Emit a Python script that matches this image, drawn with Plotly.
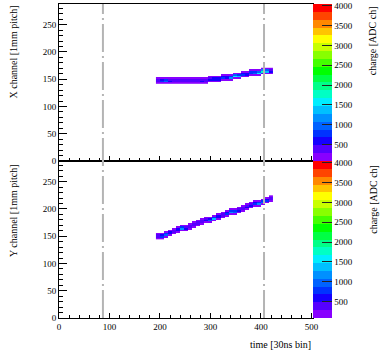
import plotly.graph_objects as go
from plotly.subplots import make_subplots

# time columns (start of each 8-sample bin, 30ns units)
time_cols = [192, 200, 208, 216, 224, 232, 240, 248, 256, 264, 272, 280, 288, 296, 304,
             312, 320, 328, 336, 344, 352, 360, 368, 376, 384, 392, 400, 408, 416]

# lowest channel of the track in each column (cells are 3 channels tall)
x_base = [141, 141, 141, 141, 141, 141, 141, 141, 141, 141, 141, 141, 141, 144, 144,
          144, 147, 147, 147, 150, 150, 153, 153, 156, 156, 156, 159, 159, 159]
y_base = [144, 144, 147, 150, 153, 156, 159, 159, 162, 165, 168, 171, 174, 174, 177,
          180, 183, 186, 189, 189, 192, 195, 198, 201, 204, 204, 207, 210, 213]

# charge of the 4 stacked cells in each column, bottom to top [ADC ch]
x_charge = [
    [120, 330, 280, 110], [200, 800, 600, 180], [230, 950, 700, 200], [200, 480, 420, 150],
    [160, 360, 330, 140], [150, 320, 300, 130], [160, 360, 320, 120], [150, 310, 330, 140],
    [150, 340, 300, 130], [160, 380, 350, 150], [170, 400, 360, 160], [180, 480, 400, 170],
    [170, 420, 380, 160], [190, 520, 450, 180], [200, 560, 480, 190], [210, 650, 500, 200],
    [220, 750, 560, 210], [200, 600, 520, 190], [240, 1200, 750, 220], [260, 1600, 950, 240],
    [240, 1300, 800, 230], [220, 750, 650, 210], [210, 650, 560, 200], [230, 850, 700, 220],
    [240, 1050, 750, 230], [270, 1500, 1000, 250], [280, 1850, 1200, 260], [260, 1400, 950, 240],
    [180, 560, 400, 150],
]
y_charge = [
    [130, 350, 300, 120], [190, 800, 620, 180], [200, 900, 680, 200], [180, 560, 480, 170],
    [160, 420, 380, 150], [180, 650, 500, 170], [220, 1200, 750, 200], [190, 560, 460, 180],
    [160, 380, 340, 150], [150, 340, 320, 140], [160, 380, 350, 150], [170, 420, 360, 160],
    [180, 560, 420, 170], [220, 950, 650, 200], [240, 1300, 800, 220], [200, 650, 500, 190],
    [180, 460, 420, 170], [200, 750, 560, 190], [240, 1200, 850, 220], [230, 1050, 750, 210],
    [190, 560, 460, 180], [180, 460, 420, 170], [190, 500, 440, 180], [200, 600, 460, 190],
    [220, 800, 600, 200], [250, 1200, 850, 230], [240, 950, 750, 220], [220, 750, 560, 200],
    [160, 460, 320, 140],
]

gate_times = [87, 406]
charge_ticks = [500, 1000, 1500, 2000, 2500, 3000, 3500, 4000]

# ROOT-like rainbow, 20 contour bands
band_colors = ['#8800ff', '#5500ff', '#1500ff', '#0033ff', '#0062ff', '#0090ff', '#00c0ff',
               '#00eeff', '#00ffc4', '#00ff88', '#00ff44', '#00ff00', '#44ff00', '#88ff00',
               '#c8ff00', '#ffff00', '#ffc400', '#ff8800', '#ff4400', '#ff0000']
ZMIN, ZMAX = 80, 4050
FONT = 'Liberation Serif'


def discrete_scale(colors):
    n = len(colors)
    scale = []
    for i, c in enumerate(colors):
        scale.append([i / n, c])
        scale.append([(i + 1) / n, c])
    return scale


def build_grid(base, charge):
    lo = min(base)
    hi = max(base) + 12
    rows = list(range(lo, hi, 3))
    z = [[None] * len(time_cols) for _ in rows]
    for j, (b, q) in enumerate(zip(base, charge)):
        for k, v in enumerate(q):
            z[rows.index(b + 3 * k)][j] = v
    xs = [t + 4 for t in time_cols]
    ys = [r + 1.5 for r in rows]
    return xs, ys, z


fig = make_subplots(rows=2, cols=1, shared_xaxes=True, vertical_spacing=0)

scale = discrete_scale(band_colors)
for row, (base, charge, axis) in enumerate([(x_base, x_charge, 'coloraxis'),
                                            (y_base, y_charge, 'coloraxis2')], start=1):
    xs, ys, z = build_grid(base, charge)
    fig.add_trace(go.Heatmap(x=xs, y=ys, z=z, coloraxis=axis, hoverongaps=False), row=row, col=1)

cbar = dict(thickness=19, lenmode='pixels', len=157, x=1.0, xanchor='left', xpad=0, ypad=0,
            yanchor='top', outlinewidth=0, tickvals=charge_ticks, ticks='inside', ticklen=10,
            tickcolor='#222', tickfont=dict(family=FONT, size=9, color='black'))
fig.update_layout(
    coloraxis=dict(colorscale=scale, cmin=ZMIN, cmax=ZMAX, colorbar=dict(cbar, y=1.0)),
    coloraxis2=dict(colorscale=scale, cmin=ZMIN, cmax=ZMAX, colorbar=dict(cbar, y=0.5)),
)

axis_style = dict(showline=True, linecolor='black', linewidth=1, mirror=True, showgrid=False,
                  zeroline=False, ticks='inside', tickcolor='black', automargin=False,
                  tickfont=dict(family=FONT, size=9, color='black'))
fig.update_xaxes(axis_style, range=[0, 503], dtick=100, ticklen=5,
                 minor=dict(ticks='inside', dtick=20, ticklen=3, tickcolor='black'))
fig.update_xaxes(showticklabels=False, row=1, col=1)
fig.update_yaxes(axis_style, range=[0, 288], dtick=50, ticklen=8,
                 minor=dict(ticks='inside', dtick=10, ticklen=4, tickcolor='black'))

for t in gate_times:
    fig.add_shape(type='line', xref='x', yref='paper', x0=t, x1=t, y0=0, y1=1,
                  line=dict(color='#b4b4b4', width=2, dash='28px,4px,2px,4px'))

title_font = dict(family=FONT, size=10, color='black')
fig.add_annotation(text='X channel [1mm pitch]', xref='paper', yref='paper', x=-0.181, y=1.0,
                   xanchor='center', yanchor='top', textangle=-90, showarrow=False, font=title_font)
fig.add_annotation(text='Y channel [1mm pitch]', xref='paper', yref='paper', x=-0.181, y=0.495,
                   xanchor='center', yanchor='top', textangle=-90, showarrow=False, font=title_font)
fig.add_annotation(text='charge [ADC ch]', xref='paper', yref='paper', x=1.235, y=1.0,
                   xanchor='center', yanchor='top', textangle=-90, showarrow=False, font=title_font)
fig.add_annotation(text='charge [ADC ch]', xref='paper', yref='paper', x=1.235, y=0.495,
                   xanchor='center', yanchor='top', textangle=-90, showarrow=False, font=title_font)
fig.add_annotation(text='time [30ns bin]', xref='paper', yref='paper', x=1.0, y=-0.06,
                   xanchor='right', yanchor='top', showarrow=False, font=title_font)

fig.update_layout(width=390, height=350,
                  margin=dict(l=59, r=77, t=4, b=32, autoexpand=False),
                  plot_bgcolor='white', paper_bgcolor='white', showlegend=False)

# the page body has a default 8px margin; drop it so the figure sits at the corner
fig.write_html("out.html", config={'displayModeBar': False},
               post_script="document.body.style.margin='0px';")
